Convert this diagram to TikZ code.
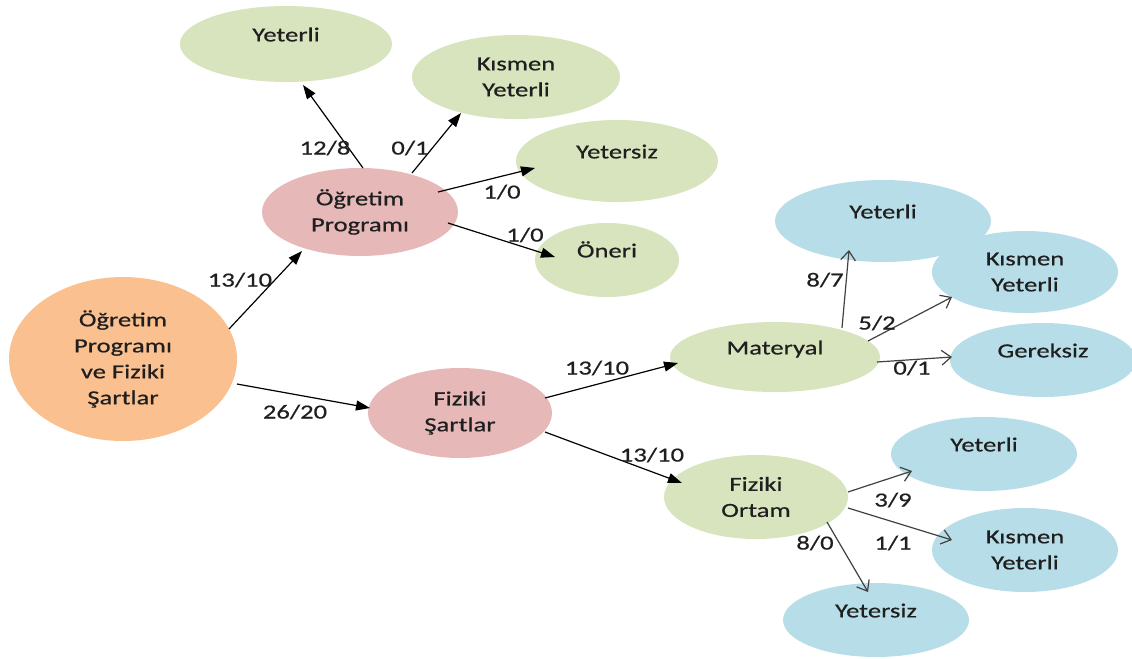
\documentclass[tikz,border=0pt]{standalone}
\usepackage{fontspec}
\setmainfont{Carlito}[FakeStretch=1.33,FakeBold=0.6]
\usetikzlibrary{shapes.geometric,arrows.meta,calc}
\definecolor{peach}{HTML}{FAC090}
\definecolor{rose}{HTML}{E6B9B8}
\definecolor{sage}{HTML}{D7E4BD}
\definecolor{sky}{HTML}{B7DEE8}
\definecolor{ink}{HTML}{1F1F1F}

\begin{document}
\begin{tikzpicture}[x=0.75pt,y=-0.75pt,
  font=\fontsize{15}{19.5}\selectfont, text=ink,
  % filled ellipse: colour, x radius, y radius (in px)
  bub/.style n args={3}{ellipse, fill=#1, draw=none, inner sep=0pt,
    minimum width=#2*1.5pt, minimum height=#3*1.5pt, align=center},
  % single-line captions sit a little above the middle
  single/.style={text height=10pt, text depth=13.9pt},
  fillarr/.style={draw=black, line width=0.9pt, -{Triangle[length=10.5pt,width=7.5pt]}},
  openarr/.style={draw=ink!85, line width=0.9pt, -{Straight Barb[length=7pt,width=11pt]}},
  num/.style={inner sep=0pt, text=ink}
]
\useasboundingbox (0,0) rectangle (1132,658);

% ---- ellipses ----
\node[bub={peach}{114}{82}] (root) at (123,359) {Öğretim\\Programı\\ve Fiziki\\Şartlar};
\node[bub={rose}{98}{44}]  (op)   at (360,212) {Öğretim\\Programı};
\node[bub={rose}{92}{45}]  (fs)   at (460,413) {Fiziki\\Şartlar};

\node[bub={sage}{106}{38}, single] (y1)  at (286,44)  {Yeterli};
\node[bub={sage}{104}{42}]         (km1) at (516,77)  {Kısmen\\Yeterli};
\node[bub={sage}{101}{41}, single] (yt1) at (617,161) {Yetersiz};
\node[bub={sage}{72}{37}, single]  (on)  at (607,260) {Öneri};
\node[bub={sage}{105}{35}, single] (mat) at (775,357) {Materyal};
\node[bub={sage}{92}{42}]          (ort) at (756,497) {Fiziki\\Ortam};

\node[bub={sky}{108}{41}, single] (y2)  at (883,221)  {Yeterli};
\node[bub={sky}{93}{41}]          (km2) at (1025,272) {Kısmen\\Yeterli};
\node[bub={sky}{93}{37}, single]  (ger) at (1043,360) {Gereksiz};
\node[bub={sky}{93}{37}, single]  (y3)  at (984,454)  {Yeterli};
\node[bub={sky}{93}{42}]          (km3) at (1025,550) {Kısmen\\Yeterli};
\node[bub={sky}{93}{37}, single]  (yt3) at (876,620)  {Yetersiz};

% ---- connectors ----
\draw[fillarr] ($(root)+(106,-30)$) -- ($(op)+(-58,39)$);
\draw[fillarr] ($(root)+(114,25)$)  -- ($(fs)+(-90,-5)$);
\draw[fillarr] ($(op)+(3,-44)$)     -- ($(y1)+(17,41)$);
\draw[fillarr] ($(op)+(52,-39)$)    -- ($(km1)+(-55,36)$);
\draw[fillarr] ($(op)+(78,-20)$)    -- ($(yt1)+(-82,7)$);
\draw[fillarr] ($(op)+(88,11)$)     -- ($(on)+(-52,-3)$);
\draw[fillarr] ($(fs)+(85,-15)$)    -- ($(mat)+(-97,6)$);
\draw[fillarr] ($(fs)+(85,19)$)     -- ($(ort)+(-74,-14)$);

\draw[openarr] ($(mat)+(67,-29)$)   -- ($(y2)+(-34,29)$);
\draw[openarr] ($(mat)+(93,-16)$)   -- ($(km2)+(-73,25)$);
\draw[openarr] ($(mat)+(102,5)$)    -- ($(ger)+(-91,-3)$);
\draw[openarr] ($(ort)+(92,-5)$)    -- ($(y3)+(-72,17)$);
\draw[openarr] ($(ort)+(92,11)$)    -- ($(km3)+(-73,-10)$);
\draw[openarr] ($(ort)+(71,25)$)    -- ($(yt3)+(-8,-28)$);

% ---- counts ----
\node[num] (n1)  at (240,280) {13/10};
\node[num] (n2)  at (295,412) {26/20};
\node[num] (n3)  at (325,148) {12/8};
\node[num] (n4)  at (410,148) {0/1};
\node[num] (n5)  at (502,192) {1/0};
\node[num] (n6)  at (525,235) {1/0};
\node[num] (n7)  at (597,368) {13/10};
\node[num] (n8)  at (652,455) {13/10};
\node[num] (n9)  at (825,280) {8/7};
\node[num] (n10) at (877,323) {5/2};
\node[num] (n11) at (912,368) {0/1};
\node[num] (n12) at (893,500) {3/9};
\node[num] (n13) at (893,543) {1/1};
\node[num] (n14) at (815,543) {8/0};
\end{tikzpicture}
\end{document}
